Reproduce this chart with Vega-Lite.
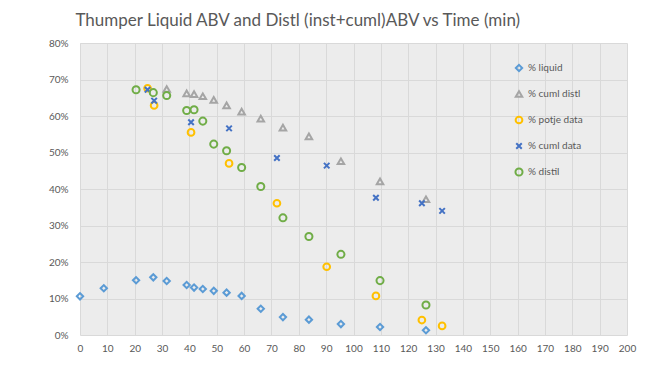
{
  "$schema": "https://vega.github.io/schema/vega-lite/v6.json",
  "width": 547,
  "height": 292,
  "autosize": {"type": "none"},
  "padding": {"left": 80, "top": 43, "right": 41, "bottom": 44},
  "background": "white",
  "title": {
    "text": "Thumper Liquid ABV and Distl (inst+cuml)ABV vs Time (min)",
    "anchor": "start",
    "dx": 27,
    "offset": 8,
    "font": "Lato",
    "fontSize": 17,
    "fontWeight": "normal",
    "color": "#595959"
  },
  "config": {
    "view": {"fill": "#ececec", "stroke": null},
    "axis": {"labelFont": "Lato", "labelFontSize": 10, "labelColor": "#595959", "gridColor": "#d9d9d9", "gridWidth": 1, "domain": false, "ticks": false, "title": null}
  },
  "data": {
    "values": [
      {"t": 0, "v": 0.106, "s": "% liquid"},
      {"t": 8.7, "v": 0.128, "s": "% liquid"},
      {"t": 20.5, "v": 0.150, "s": "% liquid"},
      {"t": 26.8, "v": 0.158, "s": "% liquid"},
      {"t": 31.7, "v": 0.148, "s": "% liquid"},
      {"t": 39.0, "v": 0.137, "s": "% liquid"},
      {"t": 41.7, "v": 0.130, "s": "% liquid"},
      {"t": 44.9, "v": 0.126, "s": "% liquid"},
      {"t": 48.9, "v": 0.121, "s": "% liquid"},
      {"t": 53.6, "v": 0.116, "s": "% liquid"},
      {"t": 59.1, "v": 0.107, "s": "% liquid"},
      {"t": 66.1, "v": 0.072, "s": "% liquid"},
      {"t": 74.2, "v": 0.049, "s": "% liquid"},
      {"t": 83.7, "v": 0.042, "s": "% liquid"},
      {"t": 95.4, "v": 0.030, "s": "% liquid"},
      {"t": 109.7, "v": 0.022, "s": "% liquid"},
      {"t": 126.5, "v": 0.013, "s": "% liquid"},
      {"t": 31.7, "v": 0.674, "s": "% cuml distl"},
      {"t": 39.0, "v": 0.662, "s": "% cuml distl"},
      {"t": 41.7, "v": 0.660, "s": "% cuml distl"},
      {"t": 44.9, "v": 0.654, "s": "% cuml distl"},
      {"t": 48.9, "v": 0.644, "s": "% cuml distl"},
      {"t": 53.6, "v": 0.629, "s": "% cuml distl"},
      {"t": 59.1, "v": 0.612, "s": "% cuml distl"},
      {"t": 66.1, "v": 0.593, "s": "% cuml distl"},
      {"t": 74.2, "v": 0.568, "s": "% cuml distl"},
      {"t": 83.7, "v": 0.544, "s": "% cuml distl"},
      {"t": 95.4, "v": 0.476, "s": "% cuml distl"},
      {"t": 109.7, "v": 0.421, "s": "% cuml distl"},
      {"t": 126.5, "v": 0.372, "s": "% cuml distl"},
      {"t": 24.7, "v": 0.676, "s": "% potje data"},
      {"t": 27.1, "v": 0.629, "s": "% potje data"},
      {"t": 40.6, "v": 0.555, "s": "% potje data"},
      {"t": 54.5, "v": 0.470, "s": "% potje data"},
      {"t": 72.0, "v": 0.361, "s": "% potje data"},
      {"t": 90.2, "v": 0.187, "s": "% potje data"},
      {"t": 108.2, "v": 0.107, "s": "% potje data"},
      {"t": 125.0, "v": 0.041, "s": "% potje data"},
      {"t": 132.4, "v": 0.025, "s": "% potje data"},
      {"t": 24.7, "v": 0.672, "s": "% cuml data"},
      {"t": 27.1, "v": 0.642, "s": "% cuml data"},
      {"t": 40.6, "v": 0.583, "s": "% cuml data"},
      {"t": 54.5, "v": 0.566, "s": "% cuml data"},
      {"t": 72.0, "v": 0.485, "s": "% cuml data"},
      {"t": 90.2, "v": 0.464, "s": "% cuml data"},
      {"t": 108.2, "v": 0.376, "s": "% cuml data"},
      {"t": 125.0, "v": 0.361, "s": "% cuml data"},
      {"t": 132.4, "v": 0.340, "s": "% cuml data"},
      {"t": 20.5, "v": 0.672, "s": "% distil"},
      {"t": 26.8, "v": 0.664, "s": "% distil"},
      {"t": 31.7, "v": 0.656, "s": "% distil"},
      {"t": 39.0, "v": 0.615, "s": "% distil"},
      {"t": 41.7, "v": 0.617, "s": "% distil"},
      {"t": 44.9, "v": 0.586, "s": "% distil"},
      {"t": 48.9, "v": 0.523, "s": "% distil"},
      {"t": 53.6, "v": 0.505, "s": "% distil"},
      {"t": 59.1, "v": 0.459, "s": "% distil"},
      {"t": 66.1, "v": 0.407, "s": "% distil"},
      {"t": 74.2, "v": 0.321, "s": "% distil"},
      {"t": 83.7, "v": 0.270, "s": "% distil"},
      {"t": 95.4, "v": 0.221, "s": "% distil"},
      {"t": 109.7, "v": 0.149, "s": "% distil"},
      {"t": 126.5, "v": 0.082, "s": "% distil"}
    ]
  },
  "mark": {"type": "point", "filled": false, "strokeWidth": 2, "opacity": 1},
  "encoding": {
    "x": {"field": "t", "type": "quantitative", "scale": {"domain": [0, 200], "nice": false, "zero": false}, "axis": {"values": [0,10,20,30,40,50,60,70,80,90,100,110,120,130,140,150,160,170,180,190,200], "labelPadding": 8, "labelFlush": false}},
    "y": {"field": "v", "type": "quantitative", "scale": {"domain": [0, 0.8], "nice": false}, "axis": {"values": [0,0.1,0.2,0.3,0.4,0.5,0.6,0.7,0.8], "format": ".0%", "labelPadding": 12}},
    "color": {"field": "s", "type": "nominal", "scale": {"domain": ["% liquid", "% cuml distl", "% potje data", "% cuml data", "% distil"], "range": ["#5b9bd5", "#a5a5a5", "#ffc000", "#4472c4", "#70ad47"]},
      "legend": {"title": null, "orient": "none", "legendX": 434, "legendY": 20, "labelFont": "Lato", "labelFontSize": 10, "labelColor": "#595959", "rowPadding": 11, "symbolStrokeWidth": 2, "symbolSize": 50, "labelOffset": 4}},
    "shape": {"field": "s", "type": "nominal", "scale": {"domain": ["% liquid", "% cuml distl", "% potje data", "% cuml data", "% distil"], "range": ["diamond", "triangle-up", "circle", "M-0.8,-0.8L0.8,0.8M0.8,-0.8L-0.8,0.8", "circle"]}, "legend": null},
    "strokeWidth": {"field": "s", "type": "nominal", "scale": {"domain": ["% liquid", "% cuml distl", "% potje data", "% cuml data", "% distil"], "range": [2, 2, 2, 2.8, 2]}, "legend": null},
    "size": {"field": "s", "type": "nominal", "scale": {"domain": ["% liquid", "% cuml distl", "% potje data", "% cuml data", "% distil"], "range": [40, 50, 70, 50, 70]}, "legend": null},
    "order": {"value": 0}
  }
}
